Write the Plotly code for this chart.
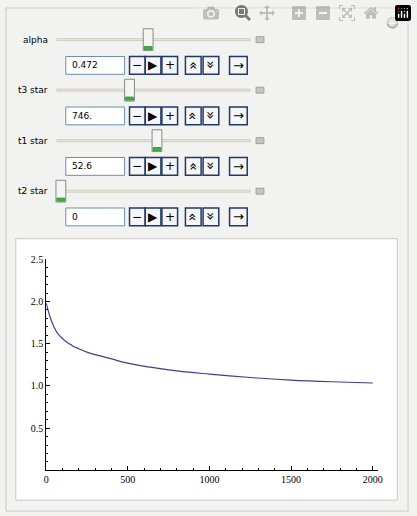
import plotly.graph_objects as go

# curve
t_vals = [0, 10, 25, 50, 75, 100, 125, 150, 175, 200, 250, 300, 400, 500, 750, 1000, 1250, 1500, 1750, 2000]
y_vals = [1.98, 1.91, 1.81, 1.69, 1.61, 1.56, 1.52, 1.49, 1.46, 1.44, 1.40, 1.37, 1.32, 1.27, 1.19, 1.14, 1.10, 1.07, 1.05, 1.035]

# manipulate controls
ctrl_labels = ["alpha", "t3 star", "t1 star", "t2 star"]
ctrl_values = ["0.472", "746.", "52.6", "0"]
thumb_px = [148, 129, 157, 59]

W, H = 417, 516
def px(x):
    return x / W
def py(y):
    return 1 - y / H

shapes = []
annots = []

def rect(x0, y0, x1, y1, line="#9aa6b4", fill="white", width=1):
    shapes.append(dict(type="rect", xref="paper", yref="paper", x0=px(x0), x1=px(x1),
                       y0=py(y1), y1=py(y0), line=dict(color=line, width=width), fillcolor=fill, layer="below"))

def text(x, y, s, size=10, color="black", anchor="left", angle=0, font="DejaVu Sans"):
    annots.append(dict(x=px(x), y=py(y), xref="paper", yref="paper", text=s, showarrow=False,
                       xanchor=anchor, yanchor="middle", textangle=angle,
                       font=dict(size=size, color=color, family=font)))

# panel backgrounds
rect(3, 3, 413, 511, line="#c8c8c8", fill="#f2f2f0")
rect(13, 236, 402, 500, line="#c8c8c8", fill="white")
shapes.append(dict(type="circle", xref="paper", yref="paper", x0=px(392), x1=px(402), y0=py(23), y1=py(13),
                   line=dict(color="#b0b0b0"), fillcolor="#d8d8d8"))
text(397, 18, "+", size=9, color="white", anchor="center")

for i, lab in enumerate(ctrl_labels):
    ys = 35 + 51 * i
    yb = 61 + 51 * i
    text(48, ys, lab, anchor="right", size=9)
    rect(55, ys - 1, 252, ys + 1, line="#d0ccc0", fill="#ebe8dc")
    rect(thumb_px[i] - 5, ys - 11, thumb_px[i] + 5, ys + 11, line="#8a8a8a", fill="#f4f4f4")
    rect(thumb_px[i] - 4, ys + 7, thumb_px[i] + 4, ys + 10, line="#2fa030", fill="#3cb043")
    rect(258, ys - 3, 266, ys + 3, line="#a0a0a0", fill="#c4c4c4")
    rect(64, yb - 9, 124, yb + 9, line="#6b8fb5", fill="white")
    text(68, yb, ctrl_values[i], size=9)
    for bx, glyph, ang in [(137, "−", 0), (153, "▶", 0), (170, "+", 0),
                           (194, "«", 90), (212, "»", 90)]:
        rect(bx - 8, yb - 9, bx + 8, yb + 9, line="#1f3a68", fill="#f6f6f6", width=1.5)
        text(bx, yb, glyph, size=12 if ang == 0 else 14, anchor="center", angle=ang)
    rect(231, yb - 9, 249, yb + 9, line="#1f3a68", fill="#f6f6f6", width=1.5)
    text(240, yb, "→", size=13, anchor="center")

fig = go.Figure()
fig.add_trace(go.Scatter(x=t_vals, y=y_vals, mode="lines", line=dict(color="#3c3ca8", width=1.2, shape="spline")))

tickfont = dict(family="Liberation Serif", size=10, color="black")
fig.update_layout(
    width=W, height=H, margin=dict(l=0, r=0, t=0, b=0),
    paper_bgcolor="#f2f2f0", plot_bgcolor="rgba(0,0,0,0)", showlegend=False,
    shapes=shapes, annotations=annots,
    xaxis=dict(domain=[px(44), px(382)], range=[0, 2030], showgrid=False, zeroline=False,
               showline=True, linecolor="black", linewidth=1, anchor="y",
               ticks="inside", ticklen=4, tickcolor="black", dtick=500, tickfont=tickfont,
               minor=dict(ticks="inside", ticklen=2, dtick=100, tickcolor="black")),
    yaxis=dict(domain=[py(470), py(256.7)], range=[0, 2.5], showgrid=False, zeroline=False,
               showline=True, linecolor="black", linewidth=1, anchor="x",
               ticks="inside", ticklen=4, tickcolor="black",
               tickvals=[0.5, 1.0, 1.5, 2.0, 2.5], ticktext=["0.5", "1.0", "1.5", "2.0", "2.5"],
               tickfont=tickfont,
               minor=dict(ticks="inside", ticklen=2, dtick=0.1, tickcolor="black")),
)

fig.write_html("out.html", post_script="document.body.style.margin='0';")
